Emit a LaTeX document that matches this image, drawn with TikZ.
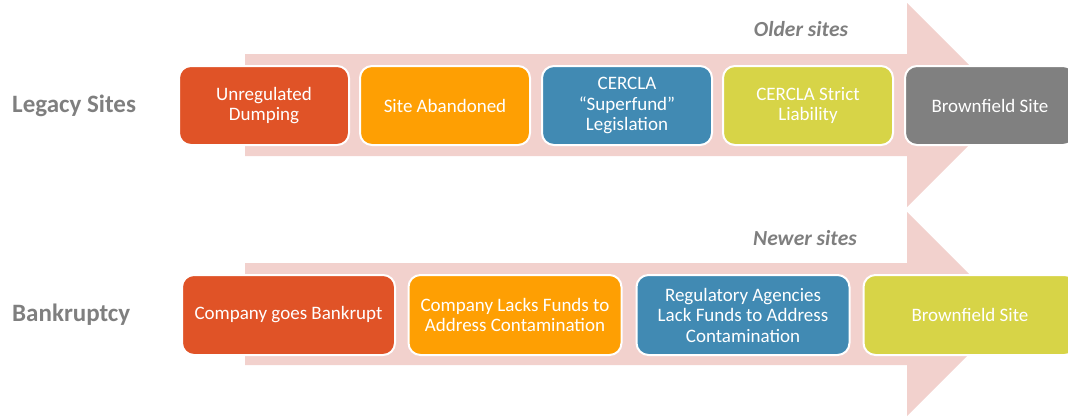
\documentclass[tikz,border=0pt]{standalone}
\usepackage{fontspec}
\setmainfont{Carlito}
\definecolor{dumpred}{RGB}{224,83,39}
\definecolor{abandonorange}{RGB}{254,159,3}
\definecolor{lawblue}{RGB}{65,138,179}
\definecolor{liablegreen}{RGB}{215,212,71}
\definecolor{fieldgray}{RGB}{128,128,128}
\definecolor{arrowpink}{RGB}{242,209,205}
\definecolor{labelgray}{RGB}{127,127,127}

\begin{document}
\begin{tikzpicture}[x=1pt, y=-1pt,
  stepbox/.style={draw=white, line width=2pt, rounded corners=12pt, text=white, align=center, inner sep=2pt, font=\fontsize{19}{20.5}\selectfont},
  toprow/.style={stepbox, minimum width=170pt, minimum height=79pt},
  lowrow/.style={stepbox, minimum width=213pt, minimum height=80pt},
  rowlabel/.style={text=labelgray, font=\fontsize{25}{28}\selectfont\bfseries, anchor=west, inner sep=0pt},
  agelabel/.style={text=labelgray, font=\fontsize{21.5}{24}\selectfont\bfseries\itshape, inner sep=0pt}]
  \useasboundingbox (0,0) rectangle (1068,416);

  % Background arrows
  \fill[arrowpink] (245,54) -- (907,54) -- (907,3) -- (1009,105) -- (907,207) -- (907,156) -- (245,156) -- cycle;
  \fill[arrowpink] (245,263) -- (907,263) -- (907,212) -- (1009,314) -- (907,416) -- (907,365) -- (245,365) -- cycle;

  % Legacy sites
  \node[rowlabel] (legacy) at (12,106) {Legacy Sites};
  \node[agelabel] (older) at (801,29) {Older sites};
  \node[toprow, fill=dumpred] (dumping) at (264,105.5) {Unregulated\\Dumping};
  \node[toprow, fill=abandonorange] (abandoned) at (445,105.5) {Site Abandoned};
  \node[toprow, fill=lawblue] (superfund) at (627,105.5) {CERCLA\\“Superfund”\\Legislation};
  \node[toprow, fill=liablegreen] (liability) at (808,105.5) {CERCLA Strict\\Liability};
  \node[toprow, fill=fieldgray] (oldfield) at (990,105.5) {Brownfield Site};

  % Bankruptcy
  \node[rowlabel] (bankruptcy) at (12,315) {Bankruptcy};
  \node[agelabel] (newer) at (805,238) {Newer sites};
  \node[lowrow, fill=dumpred] (bankrupt) at (288.5,315) {Company goes Bankrupt};
  \node[lowrow, fill=abandonorange] (nofunds) at (515,315) {Company Lacks Funds to\\Address Contamination};
  \node[lowrow, fill=lawblue] (agencies) at (743,315) {Regulatory Agencies\\Lack Funds to Address\\Contamination};
  \node[lowrow, fill=liablegreen] (newfield) at (970,315) {Brownfield Site};
\end{tikzpicture}
\end{document}
